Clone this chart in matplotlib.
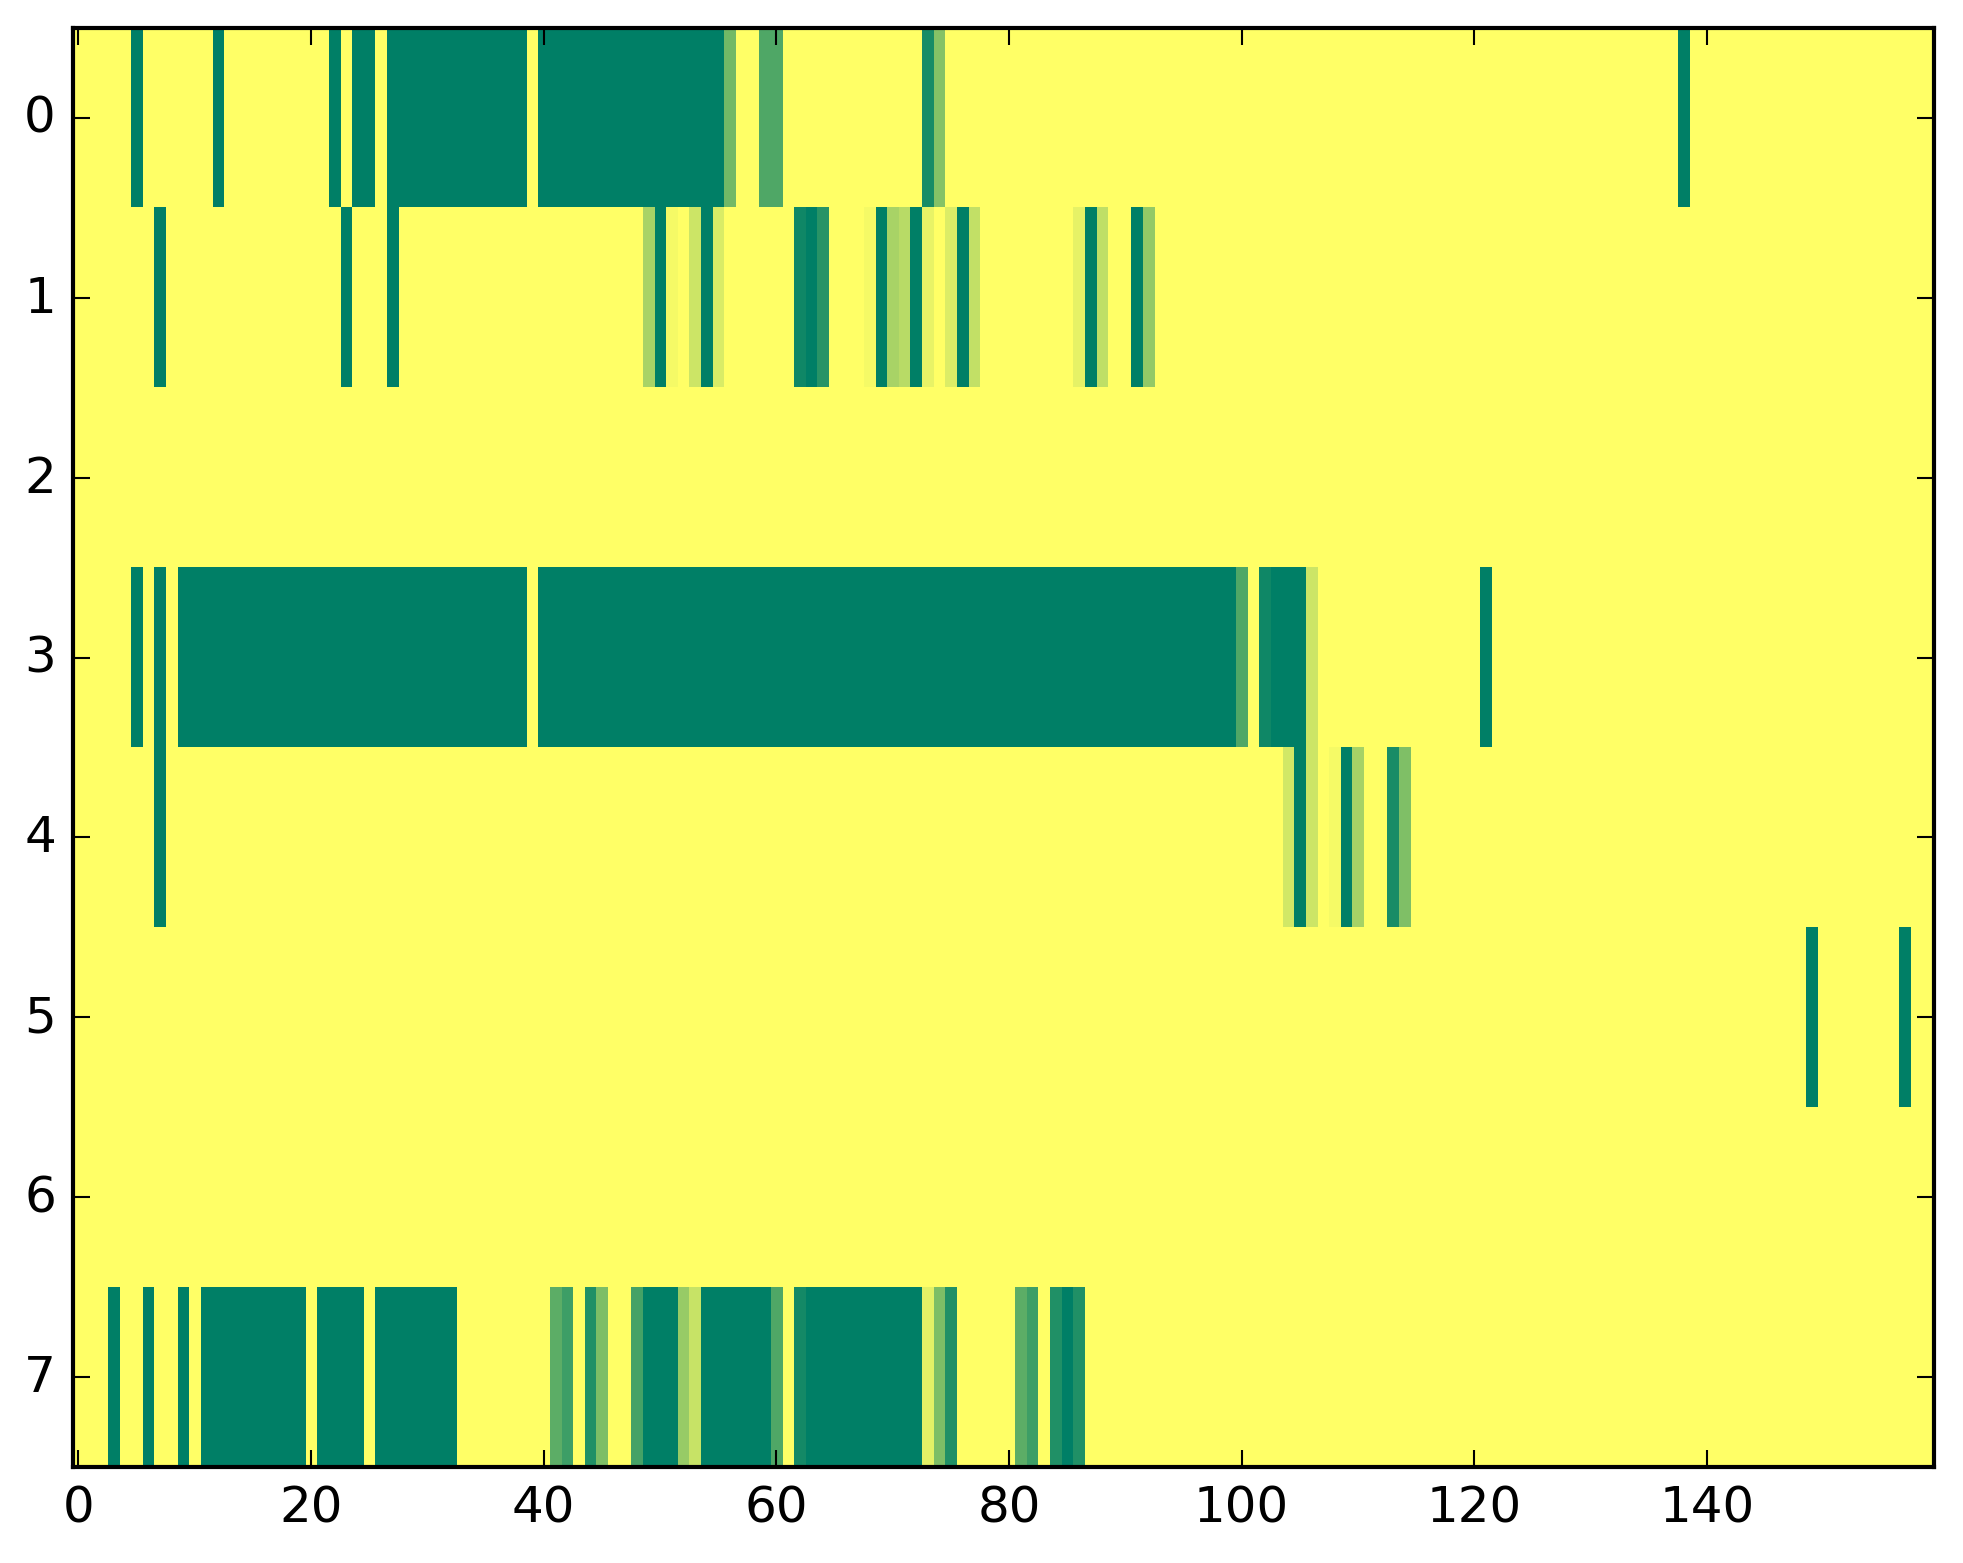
import numpy as np
import matplotlib
matplotlib.use('Agg')
import matplotlib.pyplot as plt

plt.style.use('classic')

n_rows = 8
n_cols = 160

# cells per row as (first_col, last_col, value); everything else is 0
row0_cells = [(5, 5, 1.0), (12, 12, 1.0), (22, 22, 1.0), (24, 25, 1.0), (27, 38, 1.0),
              (40, 55, 1.0), (56, 56, 0.55), (59, 60, 0.69), (73, 73, 0.9), (74, 74, 0.48),
              (138, 138, 1.0)]
row1_cells = [(7, 7, 1.0), (23, 23, 1.0), (27, 27, 1.0), (49, 49, 0.34), (50, 50, 1.0),
              (51, 51, 0.04), (53, 53, 0.2), (54, 54, 1.0), (55, 55, 0.15), (62, 62, 0.94),
              (63, 63, 1.0), (64, 64, 0.84), (68, 68, 0.04), (69, 69, 1.0), (70, 70, 0.34),
              (71, 71, 0.28), (72, 72, 1.0), (73, 73, 0.09), (75, 75, 0.14), (76, 76, 1.0),
              (77, 77, 0.24), (86, 86, 0.1), (87, 87, 1.0), (88, 88, 0.25), (91, 91, 1.0),
              (92, 92, 0.42)]
row2_cells = []
row3_cells = [(5, 5, 1.0), (7, 7, 1.0), (9, 38, 1.0), (40, 99, 1.0), (100, 100, 0.69),
              (102, 102, 0.94), (103, 105, 1.0), (106, 106, 0.2), (121, 121, 1.0)]
row4_cells = [(7, 7, 1.0), (104, 104, 0.18), (105, 105, 1.0), (106, 106, 0.2),
              (108, 108, 0.04), (109, 109, 1.0), (110, 110, 0.35), (113, 113, 0.9),
              (114, 114, 0.5)]
row5_cells = [(149, 149, 1.0), (157, 157, 1.0)]
row6_cells = []
row7_cells = [(3, 3, 1.0), (6, 6, 1.0), (9, 9, 1.0), (11, 19, 1.0), (21, 24, 1.0),
              (26, 32, 1.0), (41, 41, 0.64), (42, 42, 0.76), (44, 44, 0.87), (45, 45, 0.51),
              (48, 48, 0.73), (49, 51, 1.0), (52, 52, 0.41), (53, 53, 0.22), (54, 59, 1.0),
              (60, 60, 0.69), (62, 62, 0.92), (63, 72, 1.0), (73, 73, 0.11), (74, 74, 0.51),
              (75, 75, 0.87), (81, 81, 0.64), (82, 82, 0.76), (84, 84, 0.87), (85, 85, 1.0),
              (86, 86, 0.87)]

rows = [row0_cells, row1_cells, row2_cells, row3_cells,
        row4_cells, row5_cells, row6_cells, row7_cells]

data = np.zeros((n_rows, n_cols))
for r, cells in enumerate(rows):
    for start, stop, val in cells:
        data[r, start:stop + 1] = val

fig = plt.figure(figsize=(1963 / 300, 1564 / 300), dpi=300)
ax = fig.add_axes([0.037, 0.0614, 0.948, 0.9201])
ax.imshow(data, cmap='summer_r', vmin=0, vmax=1, aspect='auto', interpolation='nearest')
ax.set_xticks(np.arange(0, 141, 20))
ax.set_yticks(np.arange(0, 8))
ax.tick_params(labelsize=12)

fig.savefig('out.png', dpi=300)
